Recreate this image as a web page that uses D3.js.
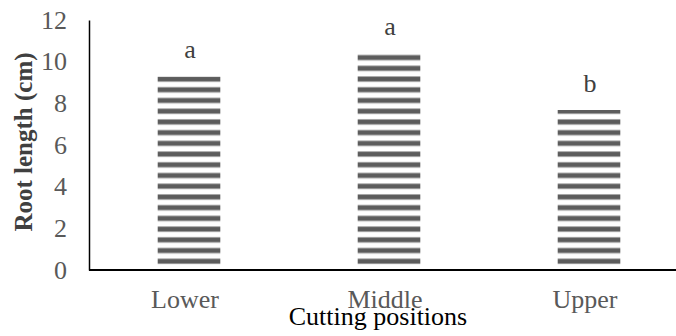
<!DOCTYPE html>
<html><head><meta charset="utf-8">
<script src="https://cdn.jsdelivr.net/npm/d3@7"></script>
<style>body{margin:0;background:#fff}svg{display:block}
svg text{font-family:"Liberation Serif","Times New Roman",Times,serif;}</style>
</head><body>
<script>
const categories = ["Lower", "Middle", "Upper"];
const values = [9.28, 10.40, 7.68];
const letters = ["a", "a", "b"];
const yTicks = [0, 2, 4, 6, 8, 10, 12];

const W = 676, H = 336;
const svg = d3.select("body").append("svg").attr("width", W).attr("height", H);

const x0 = 89, y0 = 270, yTop = 20;
const x = d3.scaleBand().domain(categories).range([x0, x0 + 600]).paddingInner(0.687).paddingOuter(0.3435);
const y = d3.scaleLinear().domain([0, 12]).range([y0, yTop]);

// stripe pattern
const pitch = 10.72;
const defs = svg.append("defs");
const pat = defs.append("pattern").attr("id", "stripes")
  .attr("patternUnits", "userSpaceOnUse")
  .attr("width", 10).attr("height", pitch)
  .attr("x", 0).attr("y", (y(0) - 8.7 - 3));
pat.append("rect").attr("x", 0).attr("y", 0).attr("width", 10).attr("height", 6).attr("fill", "#a8a8a8");
pat.append("rect").attr("x", 0).attr("y", 1).attr("width", 10).attr("height", 4).attr("fill", "#5c5c5c");

// bars
svg.selectAll("rect.bar").data(categories).join("rect").attr("class", "bar")
  .attr("x", d => x(d)).attr("width", x.bandwidth())
  .attr("y", (d, i) => y(values[i]))
  .attr("height", (d, i) => y(0) - 5.5 - y(values[i]))
  .attr("fill", "url(#stripes)");

// letters
svg.selectAll("text.let").data(categories).join("text").attr("class", "let")
  .attr("x", d => x(d) + x.bandwidth() / 2 + 1)
  .attr("y", (d, i) => y(values[i]) - 18.5)
  .attr("text-anchor", "middle")
  .style("font-size", "26px").attr("fill", "#404040")
  .text((d, i) => letters[i]);

// y axis
const yAxis = d3.axisLeft(y).tickValues(yTicks).tickSize(0).tickPadding(22);
const gy = svg.append("g").attr("transform", `translate(${x0},0)`).call(yAxis);
gy.attr("font-family", null).attr("font-size", null);
gy.select(".domain").attr("stroke", "#000").attr("stroke-width", 1.5);
gy.selectAll("text").style("font-size", "26px").attr("fill", "#595959");

// x axis
const xAxis = d3.axisBottom(x).tickSize(0).tickPadding(0);
const gx = svg.append("g").attr("transform", `translate(0,${y0})`).call(xAxis);
gx.attr("font-family", null).attr("font-size", null);
gx.select(".domain").remove();
gx.append("line").attr("x1", x0).attr("x2", W).attr("y1", 0).attr("y2", 0)
  .attr("stroke", "#000").attr("stroke-width", 1.8);
gx.selectAll(".tick text").style("font-size", "26px").attr("fill", "#595959")
  .attr("dy", null).attr("y", 37.5).attr("dx", -4);

// axis titles
svg.append("text").attr("x", 378).attr("y", 325).attr("text-anchor", "middle")
  .style("font-size", "26px").attr("fill", "#000")
  .text("Cutting positions");
svg.append("text").attr("transform", "translate(32,142) rotate(-90)")
  .attr("text-anchor", "middle")
  .style("font-size", "25px").style("font-weight", "bold").attr("fill", "#404040")
  .text("Root length (cm)");
</script>
</body></html>
